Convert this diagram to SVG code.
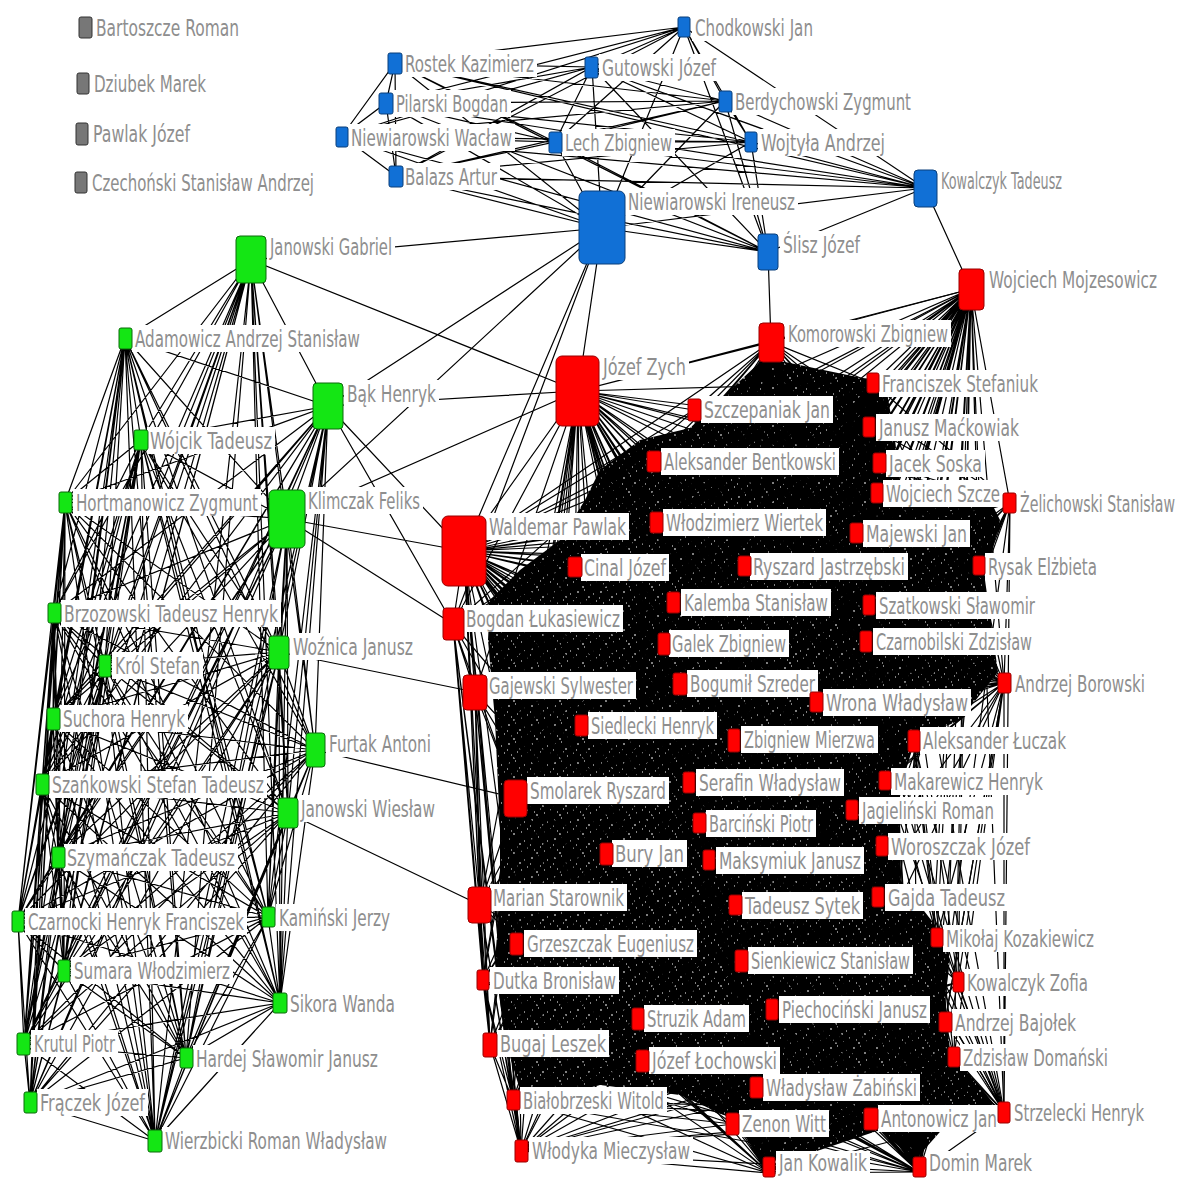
<svg xmlns="http://www.w3.org/2000/svg" width="1179" height="1178" viewBox="0 0 1179 1178">
<style>
.e{fill:none;stroke:#000;stroke-width:1.2}
.k{fill:#777;stroke:#333}
.b{fill:#1170d6;stroke:#0a3f7a}
.g{fill:#14e614;stroke:#0a6a0a}
.r{fill:#f00;stroke:#900}
.lb{fill:#fff}
text{font-family:"DejaVu Sans",sans-serif;font-size:14.5px;fill:#8e8e8e;transform-box:fill-box;transform-origin:0 79.7%;transform:scaleY(1.586)}
</style>
<defs>
<pattern id="mesh" width="23" height="19" patternUnits="userSpaceOnUse"><rect width="23" height="19" fill="#000"/><path d="M2 3h2M9 1h1M13 8h2M5 14h1M18 5h1M21 12h1M7 17h2M15 15h1M1 9h1M11 11h1" stroke="#fff" stroke-width="1"/></pattern>
</defs>
<rect width="1179" height="1178" fill="#fff"/>
<g id="connectors">
<path d="M585 500L600 470 640 440 690 428 760 362 785 362 862 378 885 380 895 440 900 480 985 490 1000 520 985 580 998 672 960 720 915 740 900 790 900 880 935 925 950 960 945 1000 950 1050 995 1105 955 1115 915 1160 880 1130 790 1160 760 1160 735 1120 680 1095 600 1085 540 1100 520 1090 505 1040 495 960 500 900 500 830 495 720 488 640 490 600 520 570 560 540Z" fill="url(#mesh)"/>
<path class="e" d="M684 27 395 63 684 27 592 67 684 27 386 103 684 27 725 101 684 27 342 136 684 27 555 142 684 27 751 142 684 27 396 176 684 27 602 228 684 27 768 252 684 27 925 188M395 63 592 67 395 63 386 103 395 63 725 101 395 63 342 136 395 63 555 142 395 63 751 142 395 63 396 176 395 63 602 228 395 63 768 252 395 63 925 188M592 67 386 103 592 67 725 101 592 67 342 136 592 67 555 142 592 67 751 142 592 67 396 176 592 67 602 228 592 67 768 252 592 67 925 188M386 103 725 101 386 103 342 136 386 103 555 142 386 103 751 142 386 103 396 176 386 103 602 228 386 103 768 252 386 103 925 188M725 101 342 136 725 101 555 142 725 101 751 142 725 101 396 176 725 101 602 228 725 101 768 252 725 101 925 188M342 136 555 142 342 136 751 142 342 136 396 176 342 136 602 228 342 136 768 252 342 136 925 188M555 142 751 142 555 142 396 176 555 142 602 228 555 142 768 252 555 142 925 188M751 142 396 176 751 142 602 228 751 142 768 252 751 142 925 188M396 176 602 228 396 176 768 252 396 176 925 188M602 228 768 252 602 228 925 188M768 252 925 188"/>
<path class="e" d="M251 260 125 338 251 260 328 406 251 260 141 440 251 260 65 502 251 260 287 519 251 260 54 613 251 260 279 652 251 260 105 666 251 260 53 719 251 260 315 750 251 260 42 784 251 260 288 813 251 260 58 857 251 260 18 921 251 260 268 917 251 260 64 971 251 260 280 1003 251 260 24 1044 251 260 186 1058 251 260 30 1103 251 260 155 1141M125 338 328 406 125 338 141 440 125 338 65 502 125 338 287 519 125 338 54 613 125 338 279 652 125 338 105 666 125 338 53 719 125 338 315 750 125 338 42 784 125 338 288 813 125 338 58 857 125 338 18 921 125 338 268 917 125 338 64 971 125 338 280 1003 125 338 24 1044 125 338 186 1058 125 338 30 1103 125 338 155 1141M328 406 141 440 328 406 65 502 328 406 287 519 328 406 54 613 328 406 279 652 328 406 105 666 328 406 53 719 328 406 315 750 328 406 42 784 328 406 288 813 328 406 58 857 328 406 18 921 328 406 268 917 328 406 64 971 328 406 280 1003 328 406 24 1044 328 406 186 1058 328 406 30 1103 328 406 155 1141M141 440 65 502 141 440 287 519 141 440 54 613 141 440 279 652 141 440 105 666 141 440 53 719 141 440 315 750 141 440 42 784 141 440 288 813 141 440 58 857 141 440 18 921 141 440 268 917 141 440 64 971 141 440 280 1003 141 440 24 1044 141 440 186 1058 141 440 30 1103 141 440 155 1141M65 502 287 519 65 502 54 613 65 502 279 652 65 502 105 666 65 502 53 719 65 502 315 750 65 502 42 784 65 502 288 813 65 502 58 857 65 502 18 921 65 502 268 917 65 502 64 971 65 502 280 1003 65 502 24 1044 65 502 186 1058 65 502 30 1103 65 502 155 1141M287 519 54 613 287 519 279 652 287 519 105 666 287 519 53 719 287 519 315 750 287 519 42 784 287 519 288 813 287 519 58 857 287 519 18 921 287 519 268 917 287 519 64 971 287 519 280 1003 287 519 24 1044 287 519 186 1058 287 519 30 1103 287 519 155 1141M54 613 279 652 54 613 105 666 54 613 53 719 54 613 315 750 54 613 42 784 54 613 288 813 54 613 58 857 54 613 18 921 54 613 268 917 54 613 64 971 54 613 280 1003 54 613 24 1044 54 613 186 1058 54 613 30 1103 54 613 155 1141M279 652 105 666 279 652 53 719 279 652 315 750 279 652 42 784 279 652 288 813 279 652 58 857 279 652 18 921 279 652 268 917 279 652 64 971 279 652 280 1003 279 652 24 1044 279 652 186 1058 279 652 30 1103 279 652 155 1141M105 666 53 719 105 666 315 750 105 666 42 784 105 666 288 813 105 666 58 857 105 666 18 921 105 666 268 917 105 666 64 971 105 666 280 1003 105 666 24 1044 105 666 186 1058 105 666 30 1103 105 666 155 1141M53 719 315 750 53 719 42 784 53 719 288 813 53 719 58 857 53 719 18 921 53 719 268 917 53 719 64 971 53 719 280 1003 53 719 24 1044 53 719 186 1058 53 719 30 1103 53 719 155 1141M315 750 42 784 315 750 288 813 315 750 58 857 315 750 18 921 315 750 268 917 315 750 64 971 315 750 280 1003 315 750 24 1044 315 750 186 1058 315 750 30 1103 315 750 155 1141M42 784 288 813 42 784 58 857 42 784 18 921 42 784 268 917 42 784 64 971 42 784 280 1003 42 784 24 1044 42 784 186 1058 42 784 30 1103 42 784 155 1141M288 813 58 857 288 813 18 921 288 813 268 917 288 813 64 971 288 813 280 1003 288 813 24 1044 288 813 186 1058 288 813 30 1103 288 813 155 1141M58 857 18 921 58 857 268 917 58 857 64 971 58 857 280 1003 58 857 24 1044 58 857 186 1058 58 857 30 1103 58 857 155 1141M18 921 268 917 18 921 64 971 18 921 280 1003 18 921 24 1044 18 921 186 1058 18 921 30 1103 18 921 155 1141M268 917 64 971 268 917 280 1003 268 917 24 1044 268 917 186 1058 268 917 30 1103 268 917 155 1141M64 971 280 1003 64 971 24 1044 64 971 186 1058 64 971 30 1103 64 971 155 1141M280 1003 24 1044 280 1003 186 1058 280 1003 30 1103 280 1003 155 1141M24 1044 186 1058 24 1044 30 1103 24 1044 155 1141M186 1058 30 1103 186 1058 155 1141M30 1103 155 1141"/>
<path class="e" d="M768 252 771 342M925 188 971 289M251 260 602 228M328 406 602 228M287 519 602 228M578 391 602 228M602 228 464 551M602 228 453 624M251 260 578 391M328 406 578 391M287 519 578 391M287 519 464 551M287 519 453 624M328 406 464 551M328 406 453 624M279 652 475 692M315 750 516 798M288 813 480 905"/>
<path class="e" d="M578 391 971 289 578 391 771 342 578 391 464 551 578 391 873 383 578 391 694 410 578 391 869 427 578 391 654 461 578 391 879 463 578 391 877 493 578 391 1010 503 578 391 656 522 578 391 857 533 578 391 575 567 578 391 744 566 578 391 979 566 578 391 453 624 578 391 673 602 578 391 869 605 578 391 866 641 578 391 664 644 578 391 475 692 578 391 680 684 578 391 816 702 578 391 1004 683 578 391 581 725 578 391 734 740 578 391 914 741 578 391 689 782 578 391 885 780 578 391 516 798 578 391 699 823 578 391 852 810 578 391 606 854 578 391 709 860 578 391 882 846 578 391 480 905 578 391 735 905 578 391 878 897 578 391 516 944 578 391 741 961 578 391 937 937 578 391 483 980 578 391 958 982 578 391 638 1019 578 391 772 1009 578 391 945 1022 578 391 490 1045 578 391 642 1061 578 391 954 1057 578 391 757 1087 578 391 513 1100 578 391 733 1124 578 391 871 1119 578 391 1004 1112 578 391 521 1151 578 391 769 1173 578 391 919 1172"/>
<path class="e" d="M464 551 971 289 464 551 771 342 464 551 873 383 464 551 694 410 464 551 869 427 464 551 654 461 464 551 879 463 464 551 877 493 464 551 1010 503 464 551 656 522 464 551 857 533 464 551 575 567 464 551 744 566 464 551 979 566 464 551 453 624 464 551 673 602 464 551 869 605 464 551 866 641 464 551 664 644 464 551 475 692 464 551 680 684 464 551 816 702 464 551 1004 683 464 551 581 725 464 551 734 740 464 551 914 741 464 551 689 782 464 551 885 780 464 551 516 798 464 551 699 823 464 551 852 810 464 551 606 854 464 551 709 860 464 551 882 846 464 551 480 905 464 551 735 905 464 551 878 897 464 551 516 944 464 551 741 961 464 551 937 937 464 551 483 980 464 551 958 982 464 551 638 1019 464 551 772 1009 464 551 945 1022 464 551 490 1045 464 551 642 1061 464 551 954 1057 464 551 757 1087 464 551 513 1100 464 551 733 1124 464 551 871 1119 464 551 1004 1112 464 551 521 1151 464 551 769 1173 464 551 919 1172"/>
<path class="e" d="M771 342 971 289 771 342 873 383 771 342 694 410 771 342 869 427 771 342 654 461 771 342 879 463 771 342 877 493 771 342 1010 503 771 342 656 522 771 342 857 533 771 342 575 567 771 342 744 566 771 342 979 566 771 342 453 624 771 342 673 602 771 342 869 605 771 342 866 641 771 342 664 644 771 342 475 692 771 342 680 684 771 342 816 702 771 342 1004 683 771 342 581 725 771 342 734 740 771 342 914 741 771 342 689 782 771 342 885 780 771 342 516 798 771 342 699 823 771 342 852 810 771 342 606 854 771 342 709 860 771 342 882 846 771 342 480 905 771 342 735 905 771 342 878 897 771 342 516 944 771 342 741 961 771 342 937 937 771 342 483 980 771 342 958 982 771 342 638 1019 771 342 772 1009 771 342 945 1022 771 342 490 1045 771 342 642 1061 771 342 954 1057 771 342 757 1087 771 342 513 1100 771 342 733 1124 771 342 871 1119 771 342 1004 1112 771 342 521 1151 771 342 769 1173 771 342 919 1172"/>
<path class="e" d="M971 289 873 383 971 289 694 410 971 289 869 427 971 289 654 461 971 289 879 463 971 289 877 493 971 289 1010 503 971 289 656 522 971 289 857 533 971 289 575 567 971 289 744 566 971 289 979 566 971 289 453 624 971 289 673 602 971 289 869 605 971 289 866 641 971 289 664 644 971 289 475 692 971 289 680 684 971 289 816 702 971 289 1004 683 971 289 581 725 971 289 734 740 971 289 914 741 971 289 689 782 971 289 885 780 971 289 516 798 971 289 699 823 971 289 852 810 971 289 606 854 971 289 709 860 971 289 882 846 971 289 480 905 971 289 735 905 971 289 878 897 971 289 516 944 971 289 741 961 971 289 937 937 971 289 483 980 971 289 958 982 971 289 638 1019 971 289 772 1009 971 289 945 1022 971 289 490 1045 971 289 642 1061 971 289 954 1057 971 289 757 1087 971 289 513 1100 971 289 733 1124 971 289 871 1119 971 289 1004 1112 971 289 521 1151 971 289 769 1173 971 289 919 1172"/>
<path class="e" d="M873 383 694 410 873 383 869 427 873 383 654 461 873 383 879 463 873 383 877 493 873 383 1010 503 873 383 656 522 873 383 857 533 873 383 575 567 873 383 744 566 873 383 979 566 873 383 453 624 873 383 673 602 873 383 869 605 873 383 866 641 873 383 664 644 873 383 475 692 873 383 680 684 873 383 816 702 873 383 1004 683 873 383 581 725 873 383 734 740 873 383 914 741 873 383 689 782 873 383 885 780 873 383 516 798 873 383 699 823 873 383 852 810 873 383 606 854 873 383 709 860 873 383 882 846 873 383 480 905 873 383 735 905 873 383 878 897 873 383 516 944 873 383 741 961 873 383 937 937 873 383 483 980 873 383 958 982 873 383 638 1019 873 383 772 1009 873 383 945 1022 873 383 490 1045 873 383 642 1061 873 383 954 1057 873 383 757 1087 873 383 513 1100 873 383 733 1124 873 383 871 1119 873 383 1004 1112 873 383 521 1151 873 383 769 1173 873 383 919 1172"/>
<path class="e" d="M769 1173 694 410 769 1173 869 427 769 1173 654 461 769 1173 879 463 769 1173 877 493 769 1173 1010 503 769 1173 656 522 769 1173 857 533 769 1173 575 567 769 1173 744 566 769 1173 979 566 769 1173 453 624 769 1173 673 602 769 1173 869 605 769 1173 866 641 769 1173 664 644 769 1173 475 692 769 1173 680 684 769 1173 816 702 769 1173 1004 683 769 1173 581 725 769 1173 734 740 769 1173 914 741 769 1173 689 782 769 1173 885 780 769 1173 516 798 769 1173 699 823 769 1173 852 810 769 1173 606 854 769 1173 709 860 769 1173 882 846 769 1173 480 905 769 1173 735 905 769 1173 878 897 769 1173 516 944 769 1173 741 961 769 1173 937 937 769 1173 483 980 769 1173 958 982 769 1173 638 1019 769 1173 772 1009 769 1173 945 1022 769 1173 490 1045 769 1173 642 1061 769 1173 954 1057 769 1173 757 1087 769 1173 513 1100 769 1173 733 1124 769 1173 871 1119 769 1173 1004 1112 769 1173 521 1151 769 1173 919 1172"/>
<path class="e" d="M919 1172 694 410 919 1172 869 427 919 1172 654 461 919 1172 879 463 919 1172 877 493 919 1172 1010 503 919 1172 656 522 919 1172 857 533 919 1172 575 567 919 1172 744 566 919 1172 979 566 919 1172 453 624 919 1172 673 602 919 1172 869 605 919 1172 866 641 919 1172 664 644 919 1172 475 692 919 1172 680 684 919 1172 816 702 919 1172 1004 683 919 1172 581 725 919 1172 734 740 919 1172 914 741 919 1172 689 782 919 1172 885 780 919 1172 516 798 919 1172 699 823 919 1172 852 810 919 1172 606 854 919 1172 709 860 919 1172 882 846 919 1172 480 905 919 1172 735 905 919 1172 878 897 919 1172 516 944 919 1172 741 961 919 1172 937 937 919 1172 483 980 919 1172 958 982 919 1172 638 1019 919 1172 772 1009 919 1172 945 1022 919 1172 490 1045 919 1172 642 1061 919 1172 954 1057 919 1172 757 1087 919 1172 513 1100 919 1172 733 1124 919 1172 871 1119 919 1172 1004 1112 919 1172 521 1151"/>
<path class="e" d="M453 624 475 692 453 624 516 798 453 624 480 905 453 624 483 980 453 624 490 1045 453 624 513 1100 453 624 521 1151M475 692 516 798 475 692 480 905 475 692 483 980 475 692 490 1045 475 692 513 1100 475 692 521 1151M516 798 480 905 516 798 483 980 516 798 490 1045 516 798 513 1100 516 798 521 1151M480 905 483 980 480 905 490 1045 480 905 513 1100 480 905 521 1151M483 980 490 1045 483 980 513 1100 483 980 521 1151M490 1045 513 1100 490 1045 521 1151M513 1100 521 1151"/>
<path class="e" d="M521 1151 733 1124 521 1151 871 1119 521 1151 1004 1112 521 1151 757 1087 521 1151 642 1061 521 1151 638 1019 521 1151 772 1009 521 1151 954 1057 521 1151 945 1022 521 1151 958 982 521 1151 741 961M513 1100 733 1124 513 1100 871 1119 513 1100 1004 1112 513 1100 757 1087 513 1100 642 1061 513 1100 638 1019 513 1100 772 1009 513 1100 954 1057 513 1100 945 1022 513 1100 958 982 513 1100 741 961M490 1045 733 1124 490 1045 871 1119 490 1045 757 1087 490 1045 642 1061 490 1045 1004 1112M733 1124 871 1119 733 1124 1004 1112 733 1124 642 1061 733 1124 757 1087 733 1124 954 1057M871 1119 757 1087 871 1119 642 1061 871 1119 638 1019 871 1119 954 1057 871 1119 945 1022"/>
<path class="e" d="M1010 503 877 493 1010 503 879 463 1010 503 857 533 1010 503 979 566 1010 503 744 566 1010 503 869 605 1010 503 866 641 1010 503 869 427 1010 503 656 522 1010 503 654 461 1010 503 816 702 1010 503 1004 683 1010 503 1004 1112 1010 503 914 741 1010 503 673 602 1010 503 575 567 1010 503 885 780 1010 503 852 810M979 566 857 533 979 566 744 566 979 566 869 605 979 566 866 641 979 566 877 493 979 566 879 463 979 566 816 702 979 566 673 602 979 566 575 567 979 566 656 522 979 566 869 427 979 566 1004 683 979 566 664 644 979 566 680 684M1004 683 866 641 1004 683 869 605 1004 683 857 533 1004 683 816 702 1004 683 914 741 1004 683 885 780 1004 683 852 810 1004 683 882 846 1004 683 878 897 1004 683 937 937 1004 683 958 982 1004 683 945 1022 1004 683 954 1057 1004 683 1004 1112 1004 683 734 740 1004 683 744 566 1004 683 680 684 1004 683 664 644 1004 683 689 782M1004 1112 954 1057 1004 1112 945 1022 1004 1112 958 982 1004 1112 937 937 1004 1112 878 897 1004 1112 882 846 1004 1112 871 1119 1004 1112 757 1087 1004 1112 772 1009 1004 1112 741 961 1004 1112 642 1061 1004 1112 638 1019 1004 1112 914 741 1004 1112 885 780 1004 1112 852 810 1004 1112 735 905"/>
</g>
<g id="nodes">
<g id="n-bartoszcze"><rect class="lb" x="93" y="14" width="149" height="27"/><text x="96" y="36" textLength="143" lengthAdjust="spacingAndGlyphs">Bartoszcze Roman</text><rect class="k" x="79" y="17" width="13" height="21" rx="2"/></g>
<g id="n-dziubek"><rect class="lb" x="91" y="70" width="118" height="27"/><text x="94" y="92" textLength="112" lengthAdjust="spacingAndGlyphs">Dziubek Marek</text><rect class="k" x="77" y="73" width="12" height="21" rx="2"/></g>
<g id="n-pawlakj"><rect class="lb" x="90" y="120" width="103" height="27"/><text x="93" y="142" textLength="97" lengthAdjust="spacingAndGlyphs">Pawlak Józef</text><rect class="k" x="76" y="123" width="12" height="22" rx="2"/></g>
<g id="n-czechonski"><rect class="lb" x="89" y="169" width="228" height="27"/><text x="92" y="191" textLength="222" lengthAdjust="spacingAndGlyphs">Czechoński Stanisław Andrzej</text><rect class="k" x="75" y="172" width="12" height="21" rx="2"/></g>
<g id="n-chodkowski"><rect class="lb" x="692" y="14" width="124" height="27"/><text x="695" y="36" textLength="118" lengthAdjust="spacingAndGlyphs">Chodkowski Jan</text><rect class="b" x="678" y="17" width="12" height="20" rx="2"/></g>
<g id="n-rostek"><rect class="lb" x="402" y="50" width="135" height="27"/><text x="405" y="72" textLength="129" lengthAdjust="spacingAndGlyphs">Rostek Kazimierz</text><rect class="b" x="388" y="53" width="14" height="21" rx="2"/></g>
<g id="n-gutowski"><rect class="lb" x="599" y="54" width="120" height="27"/><text x="602" y="76" textLength="114" lengthAdjust="spacingAndGlyphs">Gutowski Józef</text><rect class="b" x="585" y="57" width="13" height="21" rx="2"/></g>
<g id="n-pilarski"><rect class="lb" x="393" y="90" width="118" height="27"/><text x="396" y="112" textLength="112" lengthAdjust="spacingAndGlyphs">Pilarski Bogdan</text><rect class="b" x="379" y="93" width="14" height="21" rx="2"/></g>
<g id="n-berdychowski"><rect class="lb" x="732" y="88" width="182" height="27"/><text x="735" y="110" textLength="176" lengthAdjust="spacingAndGlyphs">Berdychowski Zygmunt</text><rect class="b" x="719" y="91" width="13" height="21" rx="2"/></g>
<g id="n-niewiarowskiw"><rect class="lb" x="348" y="124" width="167" height="27"/><text x="351" y="146" textLength="161" lengthAdjust="spacingAndGlyphs">Niewiarowski Wacław</text><rect class="b" x="336" y="127" width="12" height="20" rx="2"/></g>
<g id="n-lech"><rect class="lb" x="562" y="129" width="113" height="27"/><text x="565" y="151" textLength="107" lengthAdjust="spacingAndGlyphs">Lech Zbigniew</text><rect class="b" x="549" y="132" width="13" height="21" rx="2"/></g>
<g id="n-wojtyla"><rect class="lb" x="758" y="129" width="130" height="27"/><text x="761" y="151" textLength="124" lengthAdjust="spacingAndGlyphs">Wojtyła Andrzej</text><rect class="b" x="745" y="132" width="12" height="20" rx="2"/></g>
<g id="n-balazs"><rect class="lb" x="402" y="163" width="98" height="27"/><text x="405" y="185" textLength="92" lengthAdjust="spacingAndGlyphs">Balazs Artur</text><rect class="b" x="389" y="166" width="14" height="21" rx="2"/></g>
<g id="n-niewiarowskii"><rect class="lb" x="625" y="188" width="173" height="27"/><text x="628" y="210" textLength="167" lengthAdjust="spacingAndGlyphs">Niewiarowski Ireneusz</text><rect class="b" x="579" y="191" width="46" height="73" rx="6"/></g>
<g id="n-slisz"><rect class="lb" x="780" y="231" width="83" height="27"/><text x="783" y="253" textLength="77" lengthAdjust="spacingAndGlyphs">Ślisz Józef</text><rect class="b" x="758" y="234" width="20" height="36" rx="3"/></g>
<g id="n-kowalczykt"><rect class="lb" x="938" y="167" width="127" height="27"/><text x="941" y="189" textLength="121" lengthAdjust="spacingAndGlyphs">Kowalczyk Tadeusz</text><rect class="b" x="914" y="170" width="23" height="37" rx="4"/></g>
<g id="n-janowskig"><rect class="lb" x="267" y="233" width="128" height="27"/><text x="270" y="255" textLength="122" lengthAdjust="spacingAndGlyphs">Janowski Gabriel</text><rect class="g" x="236" y="236" width="30" height="47" rx="4"/></g>
<g id="n-adamowicz"><rect class="lb" x="132" y="325" width="231" height="27"/><text x="135" y="347" textLength="225" lengthAdjust="spacingAndGlyphs">Adamowicz Andrzej Stanisław</text><rect class="g" x="119" y="328" width="13" height="21" rx="2"/></g>
<g id="n-bak"><rect class="lb" x="344" y="380" width="95" height="27"/><text x="347" y="402" textLength="89" lengthAdjust="spacingAndGlyphs">Bąk Henryk</text><rect class="g" x="313" y="383" width="30" height="46" rx="4"/></g>
<g id="n-wojcik"><rect class="lb" x="147" y="427" width="128" height="27"/><text x="150" y="449" textLength="122" lengthAdjust="spacingAndGlyphs">Wójcik Tadeusz</text><rect class="g" x="134" y="430" width="14" height="20" rx="2"/></g>
<g id="n-hortmanowicz"><rect class="lb" x="73" y="489" width="188" height="27"/><text x="76" y="511" textLength="182" lengthAdjust="spacingAndGlyphs">Hortmanowicz Zygmunt</text><rect class="g" x="59" y="492" width="13" height="21" rx="2"/></g>
<g id="n-klimczak"><rect class="lb" x="305" y="487" width="118" height="27"/><text x="308" y="509" textLength="112" lengthAdjust="spacingAndGlyphs">Klimczak Feliks</text><rect class="g" x="269" y="490" width="36" height="58" rx="5"/></g>
<g id="n-brzozowski"><rect class="lb" x="61" y="600" width="220" height="27"/><text x="64" y="622" textLength="214" lengthAdjust="spacingAndGlyphs">Brzozowski Tadeusz Henryk</text><rect class="g" x="48" y="603" width="13" height="20" rx="2"/></g>
<g id="n-woznica"><rect class="lb" x="290" y="633" width="126" height="27"/><text x="293" y="655" textLength="120" lengthAdjust="spacingAndGlyphs">Woźnica Janusz</text><rect class="g" x="269" y="636" width="20" height="33" rx="3"/></g>
<g id="n-krol"><rect class="lb" x="112" y="652" width="91" height="27"/><text x="115" y="674" textLength="85" lengthAdjust="spacingAndGlyphs">Król Stefan</text><rect class="g" x="99" y="655" width="12" height="22" rx="2"/></g>
<g id="n-suchora"><rect class="lb" x="60" y="705" width="128" height="27"/><text x="63" y="727" textLength="122" lengthAdjust="spacingAndGlyphs">Suchora Henryk</text><rect class="g" x="47" y="708" width="13" height="22" rx="2"/></g>
<g id="n-furtak"><rect class="lb" x="326" y="730" width="108" height="27"/><text x="329" y="752" textLength="102" lengthAdjust="spacingAndGlyphs">Furtak Antoni</text><rect class="g" x="306" y="733" width="19" height="34" rx="3"/></g>
<g id="n-szankowski"><rect class="lb" x="49" y="771" width="218" height="27"/><text x="52" y="793" textLength="212" lengthAdjust="spacingAndGlyphs">Szańkowski Stefan Tadeusz</text><rect class="g" x="36" y="774" width="13" height="21" rx="2"/></g>
<g id="n-janowskiw"><rect class="lb" x="298" y="795" width="140" height="27"/><text x="301" y="817" textLength="134" lengthAdjust="spacingAndGlyphs">Janowski Wiesław</text><rect class="g" x="278" y="798" width="20" height="30" rx="3"/></g>
<g id="n-szymanczak"><rect class="lb" x="64" y="844" width="174" height="27"/><text x="67" y="866" textLength="168" lengthAdjust="spacingAndGlyphs">Szymańczak Tadeusz</text><rect class="g" x="52" y="847" width="13" height="21" rx="2"/></g>
<g id="n-czarnocki"><rect class="lb" x="25" y="908" width="222" height="27"/><text x="28" y="930" textLength="216" lengthAdjust="spacingAndGlyphs">Czarnocki Henryk Franciszek</text><rect class="g" x="12" y="911" width="12" height="21" rx="2"/></g>
<g id="n-kaminski"><rect class="lb" x="276" y="904" width="117" height="27"/><text x="279" y="926" textLength="111" lengthAdjust="spacingAndGlyphs">Kamiński Jerzy</text><rect class="g" x="262" y="907" width="13" height="20" rx="2"/></g>
<g id="n-sumara"><rect class="lb" x="71" y="957" width="162" height="27"/><text x="74" y="979" textLength="156" lengthAdjust="spacingAndGlyphs">Sumara Włodzimierz</text><rect class="g" x="58" y="960" width="12" height="22" rx="2"/></g>
<g id="n-sikora"><rect class="lb" x="287" y="990" width="111" height="27"/><text x="290" y="1012" textLength="105" lengthAdjust="spacingAndGlyphs">Sikora Wanda</text><rect class="g" x="273" y="993" width="14" height="20" rx="2"/></g>
<g id="n-krutul"><rect class="lb" x="31" y="1030" width="87" height="27"/><text x="34" y="1052" textLength="81" lengthAdjust="spacingAndGlyphs">Krutul Piotr</text><rect class="g" x="17" y="1033" width="13" height="22" rx="2"/></g>
<g id="n-hardej"><rect class="lb" x="193" y="1045" width="188" height="27"/><text x="196" y="1067" textLength="182" lengthAdjust="spacingAndGlyphs">Hardej Sławomir Janusz</text><rect class="g" x="180" y="1048" width="13" height="20" rx="2"/></g>
<g id="n-fraczek"><rect class="lb" x="37" y="1089" width="111" height="27"/><text x="40" y="1111" textLength="105" lengthAdjust="spacingAndGlyphs">Frączek Józef</text><rect class="g" x="24" y="1092" width="13" height="21" rx="2"/></g>
<g id="n-wierzbicki"><rect class="lb" x="162" y="1127" width="228" height="27"/><text x="165" y="1149" textLength="222" lengthAdjust="spacingAndGlyphs">Wierzbicki Roman Władysław</text><rect class="g" x="148" y="1130" width="14" height="22" rx="2"/></g>
<g id="n-mojzesowicz"><rect class="lb" x="986" y="266" width="174" height="27"/><text x="989" y="288" textLength="168" lengthAdjust="spacingAndGlyphs">Wojciech Mojzesowicz</text><rect class="r" x="959" y="269" width="25" height="41" rx="4"/></g>
<g id="n-komorowski"><rect class="lb" x="785" y="320" width="166" height="27"/><text x="788" y="342" textLength="160" lengthAdjust="spacingAndGlyphs">Komorowski Zbigniew</text><rect class="r" x="759" y="323" width="25" height="39" rx="4"/></g>
<g id="n-zych"><rect class="lb" x="600" y="353" width="89" height="27"/><text x="603" y="375" textLength="83" lengthAdjust="spacingAndGlyphs">Józef Zych</text><rect class="r" x="556" y="356" width="43" height="70" rx="6"/></g>
<g id="n-pawlakw"><rect class="lb" x="486" y="513" width="143" height="27"/><text x="489" y="535" textLength="137" lengthAdjust="spacingAndGlyphs">Waldemar Pawlak</text><rect class="r" x="442" y="516" width="44" height="70" rx="6"/></g>
<g id="n-stefaniuk"><rect class="lb" x="879" y="370" width="162" height="27"/><text x="882" y="392" textLength="156" lengthAdjust="spacingAndGlyphs">Franciszek Stefaniuk</text><rect class="r" x="867" y="373" width="12" height="20" rx="2"/></g>
<g id="n-szczepaniak"><rect class="lb" x="701" y="396" width="132" height="27"/><text x="704" y="418" textLength="126" lengthAdjust="spacingAndGlyphs">Szczepaniak Jan</text><rect class="r" x="688" y="399" width="13" height="22" rx="2"/></g>
<g id="n-mackowiak"><rect class="lb" x="876" y="414" width="146" height="27"/><text x="879" y="436" textLength="140" lengthAdjust="spacingAndGlyphs">Janusz Maćkowiak</text><rect class="r" x="863" y="417" width="12" height="20" rx="2"/></g>
<g id="n-bentkowski"><rect class="lb" x="661" y="448" width="178" height="27"/><text x="664" y="470" textLength="172" lengthAdjust="spacingAndGlyphs">Aleksander Bentkowski</text><rect class="r" x="647" y="451" width="14" height="21" rx="2"/></g>
<g id="n-soska"><rect class="lb" x="886" y="450" width="99" height="27"/><text x="889" y="472" textLength="93" lengthAdjust="spacingAndGlyphs">Jacek Soska</text><rect class="r" x="873" y="453" width="13" height="20" rx="2"/></g>
<g id="n-szcze"><rect class="lb" x="883" y="480" width="120" height="27"/><text x="886" y="502" textLength="114" lengthAdjust="spacingAndGlyphs">Wojciech Szcze</text><rect class="r" x="871" y="483" width="12" height="20" rx="2"/></g>
<g id="n-zelichowski"><rect class="lb" x="1017" y="490" width="162" height="27"/><text x="1020" y="512" textLength="155" lengthAdjust="spacingAndGlyphs">Żelichowski Stanisław</text><rect class="r" x="1003" y="493" width="13" height="20" rx="2"/></g>
<g id="n-wiertek"><rect class="lb" x="663" y="509" width="163" height="27"/><text x="666" y="531" textLength="157" lengthAdjust="spacingAndGlyphs">Włodzimierz Wiertek</text><rect class="r" x="650" y="512" width="13" height="21" rx="2"/></g>
<g id="n-majewski"><rect class="lb" x="863" y="520" width="107" height="27"/><text x="866" y="542" textLength="101" lengthAdjust="spacingAndGlyphs">Majewski Jan</text><rect class="r" x="850" y="523" width="13" height="20" rx="2"/></g>
<g id="n-cinal"><rect class="lb" x="581" y="554" width="88" height="27"/><text x="584" y="576" textLength="82" lengthAdjust="spacingAndGlyphs">Cinal Józef</text><rect class="r" x="568" y="557" width="14" height="20" rx="2"/></g>
<g id="n-jastrzebski"><rect class="lb" x="750" y="553" width="158" height="27"/><text x="753" y="575" textLength="152" lengthAdjust="spacingAndGlyphs">Ryszard Jastrzębski</text><rect class="r" x="738" y="556" width="13" height="20" rx="2"/></g>
<g id="n-rysak"><rect class="lb" x="985" y="553" width="115" height="27"/><text x="988" y="575" textLength="109" lengthAdjust="spacingAndGlyphs">Rysak Elżbieta</text><rect class="r" x="973" y="556" width="12" height="19" rx="2"/></g>
<g id="n-lukasiewicz"><rect class="lb" x="463" y="605" width="160" height="27"/><text x="466" y="627" textLength="154" lengthAdjust="spacingAndGlyphs">Bogdan Łukasiewicz</text><rect class="r" x="443" y="608" width="21" height="32" rx="3"/></g>
<g id="n-kalemba"><rect class="lb" x="681" y="589" width="150" height="27"/><text x="684" y="611" textLength="144" lengthAdjust="spacingAndGlyphs">Kalemba Stanisław</text><rect class="r" x="667" y="592" width="13" height="21" rx="2"/></g>
<g id="n-szatkowski"><rect class="lb" x="876" y="592" width="162" height="27"/><text x="879" y="614" textLength="156" lengthAdjust="spacingAndGlyphs">Szatkowski Sławomir</text><rect class="r" x="863" y="595" width="12" height="20" rx="2"/></g>
<g id="n-czarnobilski"><rect class="lb" x="873" y="628" width="162" height="27"/><text x="876" y="650" textLength="156" lengthAdjust="spacingAndGlyphs">Czarnobilski Zdzisław</text><rect class="r" x="860" y="631" width="12" height="21" rx="2"/></g>
<g id="n-galek"><rect class="lb" x="669" y="630" width="120" height="27"/><text x="672" y="652" textLength="114" lengthAdjust="spacingAndGlyphs">Galek Zbigniew</text><rect class="r" x="658" y="633" width="12" height="22" rx="2"/></g>
<g id="n-gajewski"><rect class="lb" x="486" y="672" width="150" height="27"/><text x="489" y="694" textLength="144" lengthAdjust="spacingAndGlyphs">Gajewski Sylwester</text><rect class="r" x="463" y="675" width="24" height="35" rx="4"/></g>
<g id="n-szreder"><rect class="lb" x="687" y="670" width="131" height="27"/><text x="690" y="692" textLength="125" lengthAdjust="spacingAndGlyphs">Bogumił Szreder</text><rect class="r" x="673" y="673" width="14" height="22" rx="2"/></g>
<g id="n-wrona"><rect class="lb" x="823" y="689" width="148" height="27"/><text x="826" y="711" textLength="142" lengthAdjust="spacingAndGlyphs">Wrona Władysław</text><rect class="r" x="810" y="692" width="13" height="20" rx="2"/></g>
<g id="n-borowski"><rect class="lb" x="1012" y="670" width="136" height="27"/><text x="1015" y="692" textLength="130" lengthAdjust="spacingAndGlyphs">Andrzej Borowski</text><rect class="r" x="998" y="673" width="13" height="20" rx="2"/></g>
<g id="n-siedlecki"><rect class="lb" x="588" y="712" width="129" height="27"/><text x="591" y="734" textLength="123" lengthAdjust="spacingAndGlyphs">Siedlecki Henryk</text><rect class="r" x="575" y="715" width="13" height="21" rx="2"/></g>
<g id="n-mierzwa"><rect class="lb" x="741" y="726" width="137" height="27"/><text x="744" y="748" textLength="131" lengthAdjust="spacingAndGlyphs">Zbigniew Mierzwa</text><rect class="r" x="728" y="729" width="12" height="23" rx="2"/></g>
<g id="n-luczak"><rect class="lb" x="920" y="727" width="149" height="27"/><text x="923" y="749" textLength="143" lengthAdjust="spacingAndGlyphs">Aleksander Łuczak</text><rect class="r" x="908" y="730" width="12" height="22" rx="2"/></g>
<g id="n-serafin"><rect class="lb" x="696" y="769" width="148" height="27"/><text x="699" y="791" textLength="142" lengthAdjust="spacingAndGlyphs">Serafin Władysław</text><rect class="r" x="683" y="772" width="12" height="21" rx="2"/></g>
<g id="n-makarewicz"><rect class="lb" x="891" y="768" width="155" height="27"/><text x="894" y="790" textLength="149" lengthAdjust="spacingAndGlyphs">Makarewicz Henryk</text><rect class="r" x="879" y="771" width="12" height="19" rx="2"/></g>
<g id="n-smolarek"><rect class="lb" x="527" y="777" width="142" height="27"/><text x="530" y="799" textLength="136" lengthAdjust="spacingAndGlyphs">Smolarek Ryszard</text><rect class="r" x="504" y="780" width="23" height="37" rx="4"/></g>
<g id="n-barcinski"><rect class="lb" x="706" y="810" width="110" height="27"/><text x="709" y="832" textLength="104" lengthAdjust="spacingAndGlyphs">Barciński Piotr</text><rect class="r" x="693" y="813" width="13" height="20" rx="2"/></g>
<g id="n-jagielinski"><rect class="lb" x="859" y="797" width="138" height="27"/><text x="862" y="819" textLength="132" lengthAdjust="spacingAndGlyphs">Jagieliński Roman</text><rect class="r" x="846" y="800" width="12" height="20" rx="2"/></g>
<g id="n-bury"><rect class="lb" x="612" y="840" width="75" height="27"/><text x="615" y="862" textLength="69" lengthAdjust="spacingAndGlyphs">Bury Jan</text><rect class="r" x="600" y="843" width="13" height="22" rx="2"/></g>
<g id="n-maksymiuk"><rect class="lb" x="716" y="847" width="148" height="27"/><text x="719" y="869" textLength="142" lengthAdjust="spacingAndGlyphs">Maksymiuk Janusz</text><rect class="r" x="703" y="850" width="12" height="20" rx="2"/></g>
<g id="n-woroszczak"><rect class="lb" x="888" y="833" width="145" height="27"/><text x="891" y="855" textLength="139" lengthAdjust="spacingAndGlyphs">Woroszczak Józef</text><rect class="r" x="876" y="836" width="12" height="20" rx="2"/></g>
<g id="n-starownik"><rect class="lb" x="490" y="884" width="137" height="27"/><text x="493" y="906" textLength="131" lengthAdjust="spacingAndGlyphs">Marian Starownik</text><rect class="r" x="468" y="887" width="23" height="36" rx="4"/></g>
<g id="n-sytek"><rect class="lb" x="742" y="892" width="121" height="27"/><text x="745" y="914" textLength="115" lengthAdjust="spacingAndGlyphs">Tadeusz Sytek</text><rect class="r" x="729" y="895" width="13" height="20" rx="2"/></g>
<g id="n-gajda"><rect class="lb" x="885" y="884" width="123" height="27"/><text x="888" y="906" textLength="117" lengthAdjust="spacingAndGlyphs">Gajda Tadeusz</text><rect class="r" x="872" y="887" width="12" height="20" rx="2"/></g>
<g id="n-grzeszczak"><rect class="lb" x="524" y="930" width="173" height="27"/><text x="527" y="952" textLength="167" lengthAdjust="spacingAndGlyphs">Grzeszczak Eugeniusz</text><rect class="r" x="510" y="933" width="13" height="22" rx="2"/></g>
<g id="n-sienkiewicz"><rect class="lb" x="748" y="947" width="165" height="27"/><text x="751" y="969" textLength="159" lengthAdjust="spacingAndGlyphs">Sienkiewicz Stanisław</text><rect class="r" x="735" y="950" width="13" height="22" rx="2"/></g>
<g id="n-kozakiewicz"><rect class="lb" x="943" y="925" width="154" height="27"/><text x="946" y="947" textLength="148" lengthAdjust="spacingAndGlyphs">Mikołaj Kozakiewicz</text><rect class="r" x="931" y="928" width="12" height="19" rx="2"/></g>
<g id="n-dutka"><rect class="lb" x="490" y="967" width="129" height="27"/><text x="493" y="989" textLength="123" lengthAdjust="spacingAndGlyphs">Dutka Bronisław</text><rect class="r" x="477" y="970" width="12" height="20" rx="2"/></g>
<g id="n-kowalczykz"><rect class="lb" x="964" y="969" width="127" height="27"/><text x="967" y="991" textLength="121" lengthAdjust="spacingAndGlyphs">Kowalczyk Zofia</text><rect class="r" x="953" y="972" width="11" height="20" rx="2"/></g>
<g id="n-struzik"><rect class="lb" x="644" y="1005" width="105" height="27"/><text x="647" y="1027" textLength="99" lengthAdjust="spacingAndGlyphs">Struzik Adam</text><rect class="r" x="632" y="1008" width="12" height="22" rx="2"/></g>
<g id="n-piechocinski"><rect class="lb" x="779" y="996" width="151" height="27"/><text x="782" y="1018" textLength="145" lengthAdjust="spacingAndGlyphs">Piechociński Janusz</text><rect class="r" x="766" y="999" width="12" height="21" rx="2"/></g>
<g id="n-bajolek"><rect class="lb" x="952" y="1009" width="127" height="27"/><text x="955" y="1031" textLength="121" lengthAdjust="spacingAndGlyphs">Andrzej Bajołek</text><rect class="r" x="939" y="1012" width="13" height="20" rx="2"/></g>
<g id="n-bugaj"><rect class="lb" x="497" y="1030" width="112" height="27"/><text x="500" y="1052" textLength="106" lengthAdjust="spacingAndGlyphs">Bugaj Leszek</text><rect class="r" x="483" y="1033" width="14" height="24" rx="2"/></g>
<g id="n-lochowski"><rect class="lb" x="649" y="1047" width="131" height="27"/><text x="652" y="1069" textLength="125" lengthAdjust="spacingAndGlyphs">Józef Łochowski</text><rect class="r" x="636" y="1050" width="13" height="22" rx="2"/></g>
<g id="n-domanski"><rect class="lb" x="960" y="1044" width="151" height="27"/><text x="963" y="1066" textLength="145" lengthAdjust="spacingAndGlyphs">Zdzisław Domański</text><rect class="r" x="948" y="1047" width="12" height="20" rx="2"/></g>
<g id="n-zabinski"><rect class="lb" x="763" y="1074" width="157" height="27"/><text x="766" y="1096" textLength="151" lengthAdjust="spacingAndGlyphs">Władysław Żabiński</text><rect class="r" x="750" y="1077" width="13" height="21" rx="2"/></g>
<g id="n-bialobrzeski"><rect class="lb" x="520" y="1087" width="147" height="27"/><text x="523" y="1109" textLength="141" lengthAdjust="spacingAndGlyphs">Białobrzeski Witold</text><rect class="r" x="507" y="1090" width="13" height="20" rx="2"/></g>
<g id="n-witt"><rect class="lb" x="739" y="1110" width="90" height="27"/><text x="742" y="1132" textLength="84" lengthAdjust="spacingAndGlyphs">Zenon Witt</text><rect class="r" x="726" y="1113" width="13" height="22" rx="2"/></g>
<g id="n-antonowicz"><rect class="lb" x="878" y="1105" width="122" height="27"/><text x="881" y="1127" textLength="116" lengthAdjust="spacingAndGlyphs">Antonowicz Jan</text><rect class="r" x="864" y="1108" width="14" height="22" rx="2"/></g>
<g id="n-strzelecki"><rect class="lb" x="1011" y="1099" width="136" height="27"/><text x="1014" y="1121" textLength="130" lengthAdjust="spacingAndGlyphs">Strzelecki Henryk</text><rect class="r" x="998" y="1102" width="12" height="21" rx="2"/></g>
<g id="n-wlodyka"><rect class="lb" x="529" y="1137" width="164" height="27"/><text x="532" y="1159" textLength="158" lengthAdjust="spacingAndGlyphs">Włodyka Mieczysław</text><rect class="r" x="515" y="1140" width="13" height="22" rx="2"/></g>
<g id="n-kowalik"><rect class="lb" x="776" y="1151" width="94" height="27"/><text x="779" y="1171" textLength="88" lengthAdjust="spacingAndGlyphs">Jan Kowalik</text><rect class="r" x="763" y="1157" width="12" height="20" rx="2"/></g>
<g id="n-domin"><rect class="lb" x="926" y="1151" width="109" height="27"/><text x="929" y="1171" textLength="103" lengthAdjust="spacingAndGlyphs">Domin Marek</text><rect class="r" x="913" y="1157" width="13" height="20" rx="2"/></g>
</g>
</svg>
